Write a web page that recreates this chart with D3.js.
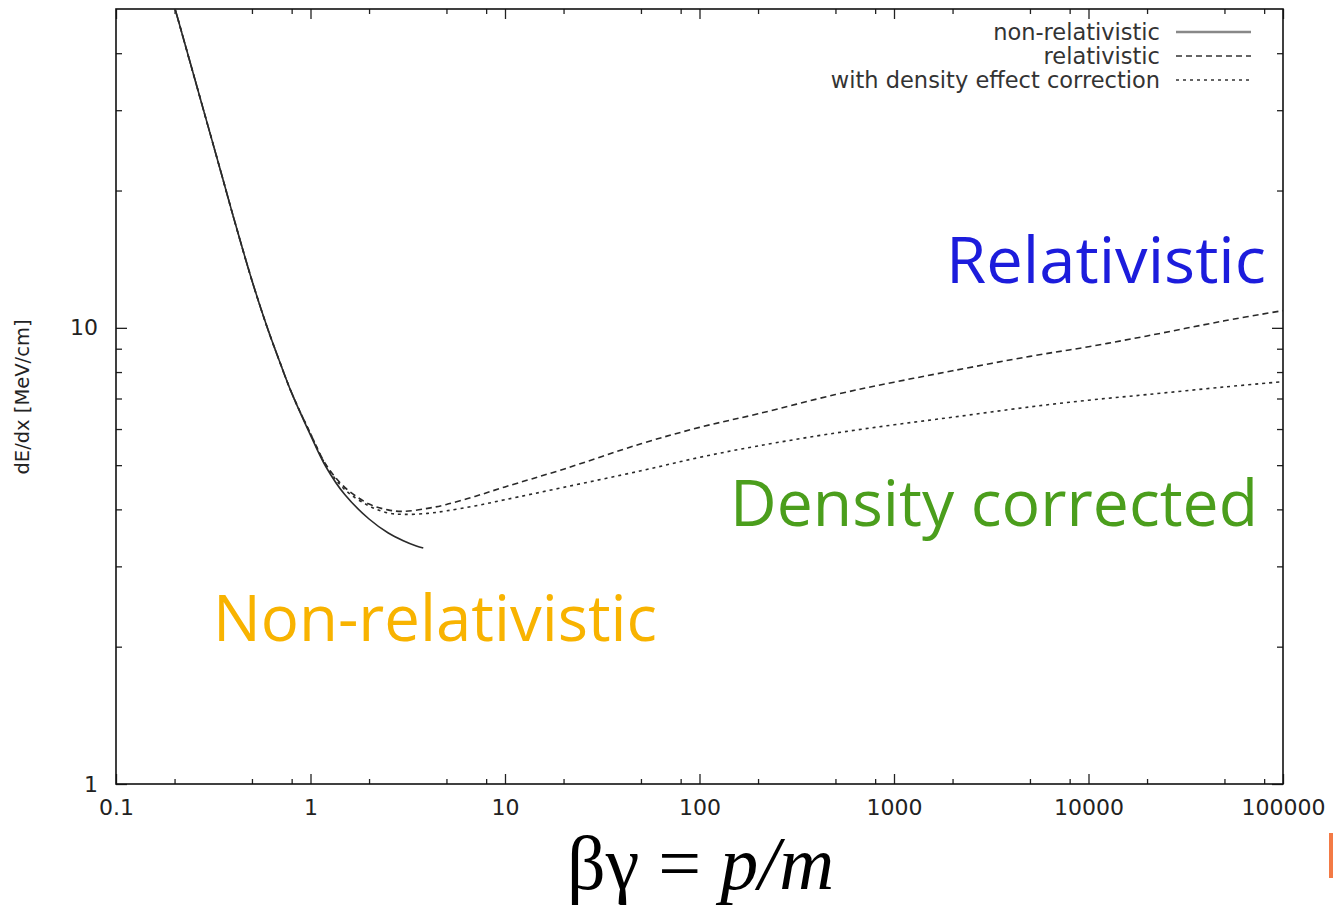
<!DOCTYPE html>
<html>
<head>
<meta charset="utf-8">
<script src="https://cdn.jsdelivr.net/npm/d3@7"></script>
<style>
  html, body { margin: 0; padding: 0; background: #fff; }
  svg { display: block; }
</style>
</head>
<body>
<svg id="chart" width="1333" height="905"></svg>
<script>
// ---- data ----
const xTickValues = [0.1, 1, 10, 100, 1000, 10000, 100000];
const xTickLabels = ["0.1", "1", "10", "100", "1000", "10000", "100000"];
const yTickValues = [1, 10];
const yTickLabels = ["1", "10"];
const xMinorTicks = [0.2, 0.5, 0.8, 2, 5, 8, 20, 50, 80, 200, 500, 800, 2000, 5000, 8000, 20000, 50000, 80000];
const yMinorTicks = [2, 3, 4, 5, 6, 7, 8, 9, 20, 30, 40];

const betaGammaNR = [0.2, 0.25, 0.3, 0.35, 0.4, 0.5, 0.6, 0.7, 0.8, 1.0, 1.2, 1.5, 2, 2.5, 3, 3.5, 3.8];
const dEdxNR      = [50.5, 36.0, 27.3, 21.6, 17.6, 12.7, 10.0, 8.35, 7.20, 5.82, 4.96, 4.31, 3.81, 3.555, 3.415, 3.325, 3.29];

const betaGammaRel = [0.2, 0.25, 0.3, 0.35, 0.4, 0.5, 0.6, 0.7, 0.8, 1.0, 1.2, 1.5, 2, 2.5, 3, 4, 5, 7, 10, 20, 50, 100, 200, 500, 1000, 2000, 5000, 10000, 20000, 50000, 100000];
const dEdxRel      = [50.5, 36.0, 27.3, 21.6, 17.6, 12.7, 10.0, 8.35, 7.20, 5.86, 5.02, 4.47, 4.11, 3.99, 3.96, 4.02, 4.10, 4.27, 4.48, 4.90, 5.57, 6.05, 6.48, 7.14, 7.60, 8.05, 8.66, 9.09, 9.60, 10.36, 10.91];
const dEdxDensity  = [50.5, 36.0, 27.3, 21.6, 17.6, 12.7, 10.0, 8.35, 7.20, 5.86, 5.00, 4.42, 4.07, 3.93, 3.90, 3.92, 3.97, 4.07, 4.20, 4.47, 4.86, 5.20, 5.51, 5.88, 6.13, 6.37, 6.71, 6.94, 7.14, 7.42, 7.62];

const legendLabels = ["non-relativistic", "relativistic", "with density effect correction"];
const seriesDash = [null, "6,4", "3,4"];

// ---- layout ----
const svg = d3.select("#chart");
const mLeft = 116, mRight = 1283, mTop = 9, mBottom = 784;

const x = d3.scaleLog().domain([0.1, 100000]).range([mLeft, mRight]);
const y = d3.scaleLog().domain([1, 50]).range([mBottom, mTop]);

const ink = "#222";
const gnuFont = "'DejaVu Sans', sans-serif";

// clip
svg.append("defs").append("clipPath").attr("id", "plotclip")
  .append("rect").attr("x", mLeft).attr("y", mTop).attr("width", mRight - mLeft).attr("height", mBottom - mTop);

// ---- axes (ticks inward, mirrored) ----
function styleAxis(g) {
  g.select(".domain").remove();
  g.selectAll(".tick line").attr("stroke", ink).attr("stroke-width", 1.3);
  g.selectAll(".tick text").attr("fill", ink).attr("font-family", gnuFont).attr("font-size", 22);
}

svg.append("g").attr("transform", `translate(0,${mBottom})`)
  .call(d3.axisBottom(x).tickValues(xTickValues).tickFormat((d, i) => xTickLabels[i]).tickSizeInner(-10).tickSizeOuter(0).tickPadding(15))
  .call(styleAxis);
svg.append("g").attr("transform", `translate(0,${mBottom})`)
  .call(d3.axisBottom(x).tickValues(xMinorTicks).tickFormat("").tickSizeInner(-5).tickSizeOuter(0))
  .call(styleAxis);
svg.append("g").attr("transform", `translate(0,${mTop})`)
  .call(d3.axisTop(x).tickValues(xTickValues).tickFormat("").tickSizeInner(-10).tickSizeOuter(0))
  .call(styleAxis);
svg.append("g").attr("transform", `translate(0,${mTop})`)
  .call(d3.axisTop(x).tickValues(xMinorTicks).tickFormat("").tickSizeInner(-5).tickSizeOuter(0))
  .call(styleAxis);
svg.append("g").attr("transform", `translate(${mLeft},0)`)
  .call(d3.axisLeft(y).tickValues(yTickValues).tickFormat((d, i) => yTickLabels[i]).tickSizeInner(-11).tickSizeOuter(0).tickPadding(18))
  .call(styleAxis);
svg.append("g").attr("transform", `translate(${mLeft},0)`)
  .call(d3.axisLeft(y).tickValues(yMinorTicks).tickFormat("").tickSizeInner(-6).tickSizeOuter(0))
  .call(styleAxis);
svg.append("g").attr("transform", `translate(${mRight},0)`)
  .call(d3.axisRight(y).tickValues(yTickValues).tickFormat("").tickSizeInner(-11).tickSizeOuter(0))
  .call(styleAxis);
svg.append("g").attr("transform", `translate(${mRight},0)`)
  .call(d3.axisRight(y).tickValues(yMinorTicks).tickFormat("").tickSizeInner(-6).tickSizeOuter(0))
  .call(styleAxis);

// frame
svg.append("rect").attr("x", mLeft).attr("y", mTop).attr("width", mRight - mLeft).attr("height", mBottom - mTop)
  .attr("fill", "none").attr("stroke", "#111").attr("stroke-width", 1.6);

// y label
svg.append("text")
  .attr("transform", `translate(29,${(312 + 482) / 2}) rotate(-90)`)
  .attr("text-anchor", "middle")
  .attr("font-family", gnuFont).attr("font-size", 19.5).attr("fill", ink)
  .text("dE/dx [MeV/cm]");

// ---- curves ----
const line = d3.line().x(d => x(d[0])).y(d => y(d[1])).curve(d3.curveCatmullRom.alpha(0.5));
const series = [
  betaGammaNR.map((b, i) => [b, dEdxNR[i]]),
  betaGammaRel.map((b, i) => [b, dEdxRel[i]]),
  betaGammaRel.map((b, i) => [b, dEdxDensity[i]])
];
const plot = svg.append("g").attr("clip-path", "url(#plotclip)");
series.forEach((s, i) => {
  plot.append("path").datum(s).attr("d", line)
    .attr("fill", "none").attr("stroke", "#2a2a2a").attr("stroke-width", 1.6)
    .attr("stroke-dasharray", seriesDash[i]);
});

// ---- legend ----
const legendY = [32, 56, 80];
legendLabels.forEach((lab, i) => {
  svg.append("text").attr("x", 1160).attr("y", legendY[i]).attr("dy", "0.36em")
    .attr("text-anchor", "end").attr("font-family", gnuFont).attr("font-size", 22.5).attr("fill", "#333")
    .text(lab);
  svg.append("line").attr("x1", 1176).attr("x2", 1251).attr("y1", legendY[i]).attr("y2", legendY[i])
    .attr("stroke", i === 0 ? "#888" : "#333").attr("stroke-width", i === 0 ? 2.4 : 1.4)
    .attr("stroke-dasharray", seriesDash[i]);
});

// ---- annotations ----
const annFont = "'Open Sans', sans-serif";
svg.append("text").attr("x", 946).attr("y", 283).attr("font-family", annFont).attr("font-size", 64)
  .attr("textLength", 320).attr("lengthAdjust", "spacingAndGlyphs")
  .attr("fill", "#1c1cdc").text("Relativistic");
svg.append("text").attr("x", 730).attr("y", 526).attr("font-family", annFont).attr("font-size", 64)
  .attr("textLength", 528).attr("lengthAdjust", "spacingAndGlyphs")
  .attr("fill", "#4b9e1c").text("Density corrected");
svg.append("text").attr("x", 213).attr("y", 641).attr("font-family", annFont).attr("font-size", 64)
  .attr("textLength", 444).attr("lengthAdjust", "spacingAndGlyphs")
  .attr("fill", "#f8b300").text("Non-relativistic");

// x axis title
const xt = svg.append("text").attr("x", 567).attr("y", 889)
  .attr("font-family", "'Liberation Serif', 'Times New Roman', serif").attr("font-size", 76).attr("fill", "#000");
xt.append("tspan").text("βγ = ");
xt.append("tspan").attr("font-style", "italic").text("p/m");

// small orange mark at the right edge
svg.append("rect").attr("x", 1329).attr("y", 833).attr("width", 4).attr("height", 45).attr("fill", "#f37a45");
</script>
</body>
</html>
